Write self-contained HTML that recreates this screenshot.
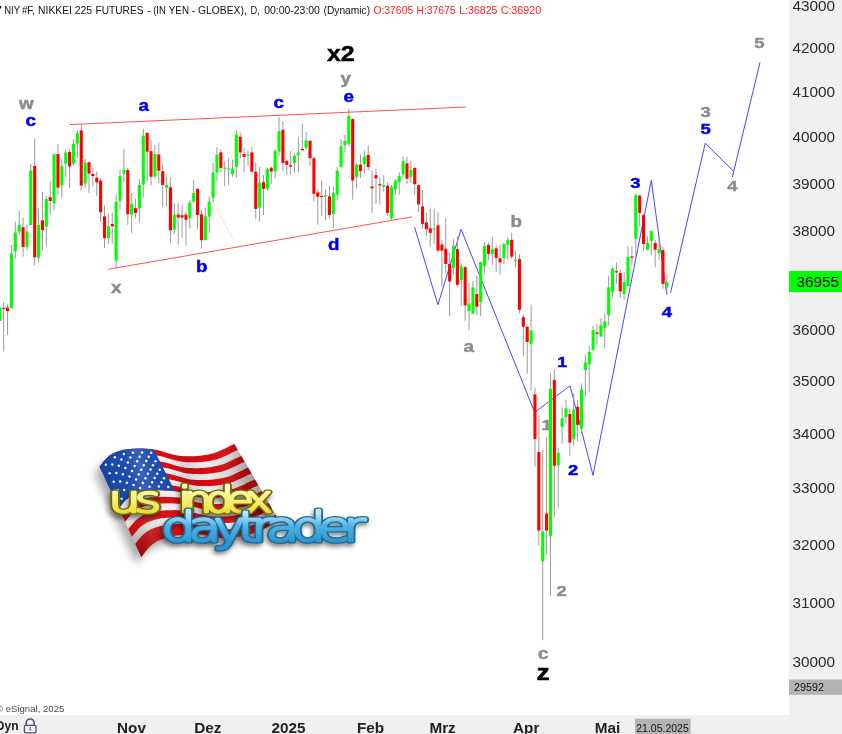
<!DOCTYPE html>
<html><head><meta charset="utf-8"><title>NIY #F Nikkei 225 Futures</title>
<style>
html,body{margin:0;padding:0;background:#fff;}
body{width:842px;height:734px;overflow:hidden;position:relative;font-family:"Liberation Sans",sans-serif;}
svg{position:absolute;left:0;top:0;display:block}
text{font-family:"Liberation Sans",sans-serif;}
.ax{font-size:15.3px;fill:#2a2a2a;}
.mo{font-size:15.3px;font-weight:bold;fill:#222;}
.wb{font-weight:bold;fill:#0000f0;stroke:#0000f0;}
.wg{font-weight:bold;fill:#8c8c8c;stroke:#8c8c8c;}
.wk{font-weight:bold;fill:#000;stroke:#000;}
.lg{font-family:"DejaVu Sans Light","DejaVu Sans",sans-serif;font-weight:200;}
</style></head><body>
<svg width="842" height="734" viewBox="0 0 842 734">
<rect x="0" y="0" width="842" height="734" fill="#ffffff"/>
<rect x="789" y="0" width="53" height="734" fill="#f0f0f0"/>
<rect x="0" y="715" width="842" height="19" fill="#f0f0f0"/>
<text y="14" font-size="10.3" fill="#111"><tspan x="-1.1" textLength="3.1" lengthAdjust="spacingAndGlyphs">'</tspan> <tspan x="4.2" textLength="15.6" lengthAdjust="spacingAndGlyphs">NIY</tspan> <tspan x="21.9" textLength="13.1" lengthAdjust="spacingAndGlyphs">#F,</tspan> <tspan x="38.1" textLength="33.8" lengthAdjust="spacingAndGlyphs">NIKKEI</tspan> <tspan x="74.7" textLength="17.5" lengthAdjust="spacingAndGlyphs">225</tspan> <tspan x="95.6" textLength="47.8" lengthAdjust="spacingAndGlyphs">FUTURES</tspan> <tspan x="147.0" textLength="3.8" lengthAdjust="spacingAndGlyphs">-</tspan> <tspan x="153.2" textLength="12.6" lengthAdjust="spacingAndGlyphs">(IN</tspan> <tspan x="168.8" textLength="20.2" lengthAdjust="spacingAndGlyphs">YEN</tspan> <tspan x="191.7" textLength="3.7" lengthAdjust="spacingAndGlyphs">-</tspan> <tspan x="198.0" textLength="48.8" lengthAdjust="spacingAndGlyphs">GLOBEX),</tspan> <tspan x="250.5" textLength="9.3" lengthAdjust="spacingAndGlyphs">D,</tspan> <tspan x="264.2" textLength="55.7" lengthAdjust="spacingAndGlyphs">00:00-23:00</tspan> <tspan x="323.5" textLength="46.6" lengthAdjust="spacingAndGlyphs">(Dynamic)</tspan></text>
<text y="14" font-size="10.3" fill="#ff2020"><tspan x="373.4" textLength="39.8" lengthAdjust="spacingAndGlyphs">O:37605</tspan> <tspan x="416.4" textLength="39.2" lengthAdjust="spacingAndGlyphs">H:37675</tspan> <tspan x="459.2" textLength="38.3" lengthAdjust="spacingAndGlyphs">L:36825</tspan> <tspan x="500.7" textLength="40.4" lengthAdjust="spacingAndGlyphs">C:36920</tspan></text>
<text class="ax" x="792.5" y="10.5">43000</text>
<text class="ax" x="792.5" y="53.4">42000</text>
<text class="ax" x="792.5" y="97.4">41000</text>
<text class="ax" x="792.5" y="142.4">40000</text>
<text class="ax" x="792.5" y="188.6">39000</text>
<text class="ax" x="792.5" y="236.0">38000</text>
<text class="ax" x="792.5" y="334.7">36000</text>
<text class="ax" x="792.5" y="386.1">35000</text>
<text class="ax" x="792.5" y="438.9">34000</text>
<text class="ax" x="792.5" y="493.4">33000</text>
<text class="ax" x="792.5" y="549.5">32000</text>
<text class="ax" x="792.5" y="607.5">31000</text>
<text class="ax" x="792.5" y="667.3">30000</text>
<rect x="789" y="271" width="53" height="21" fill="#00ff00"/>
<text x="796.5" y="287.3" font-size="15.3" fill="#000">36955</text>
<rect x="789" y="679.5" width="53" height="15.3" fill="#b4b4b4"/>
<text x="794" y="691.4" font-size="10.8" fill="#111">29592</text>
<text x="-4.1" y="712" font-size="9.6" fill="#4a4a4a">© eSignal, 2025</text>
<text x="-4.2" y="729.9" font-size="12" font-weight="bold" fill="#1a1a1a">Dyn</text>
<g fill="none" stroke="#4d5268" stroke-width="1.3"><rect x="24.4" y="725.4" width="11.6" height="7.4" rx="1.2"/><path d="M26.2 725.2v-2.2a4 4 0 0 1 8 0v2.2" stroke-width="1.6"/><path d="M30.2 728.3v2.2" stroke-width="1.2"/><circle cx="30.2" cy="727.8" r="0.7" fill="#4d5268" stroke="none"/></g>
<text class="mo" x="117.0" y="732.5">Nov</text>
<text class="mo" x="194.3" y="732.5">Dez</text>
<text class="mo" x="271.6" y="732.5">2025</text>
<text class="mo" x="357.0" y="732.5">Feb</text>
<text class="mo" x="429.4" y="732.5">Mrz</text>
<text class="mo" x="513.0" y="732.5">Apr</text>
<text class="mo" x="594.7" y="732.5">Mai</text>
<rect x="635" y="718.7" width="55.6" height="15.3" fill="#b4b4b4"/>
<text x="636.2" y="731.7" font-size="10.5" textLength="52.6" lengthAdjust="spacing" fill="#111">21.05.2025</text>
<g stroke="#ff5050" stroke-width="1" fill="none">
<line x1="69.5" y1="124.6" x2="466" y2="107"/>
<line x1="108" y1="269.3" x2="412" y2="216.9"/>
</g>
<g stroke="#4646ff" stroke-width="1" fill="none" stroke-linejoin="miter">
<polyline points="414.6,227.2 437.9,304.8 461.1,229.3 534.6,412.3 570.1,385.8 593,475.3 651.3,180.3 666.8,294.7"/>
<polyline points="670.6,292.8 705.3,143.1 733.4,171.2"/>
<polyline points="732.4,177 760,62.3"/>
</g>
<line x1="213" y1="201.6" x2="233" y2="238.8" stroke="#e9e9e9" stroke-width="1"/>
<text class="wg" font-size="15.6" stroke-width="0.45" transform="translate(19.0,108.5) scale(1.2,1)">w</text>
<text class="wb" font-size="15.6" stroke-width="0.45" transform="translate(25.5,125.7) scale(1.2,1)">c</text>
<text class="wb" font-size="15.6" stroke-width="0.45" transform="translate(138.5,111.0) scale(1.2,1)">a</text>
<text class="wb" font-size="15.6" stroke-width="0.45" transform="translate(273.5,108.0) scale(1.2,1)">c</text>
<text class="wk" font-size="22" stroke-width="0.45" transform="translate(327.0,61.2) scale(1.13,1)">x2</text>
<text class="wg" font-size="15.6" stroke-width="0.45" transform="translate(340.5,83.5) scale(1.2,1)">y</text>
<text class="wb" font-size="15.6" stroke-width="0.45" transform="translate(343.5,102.0) scale(1.2,1)">e</text>
<text class="wg" font-size="15.6" stroke-width="0.45" transform="translate(111.0,292.5) scale(1.2,1)">x</text>
<text class="wb" font-size="15.6" stroke-width="0.45" transform="translate(196.0,271.5) scale(1.2,1)">b</text>
<text class="wb" font-size="15.6" stroke-width="0.45" transform="translate(328.0,249.5) scale(1.2,1)">d</text>
<text class="wg" font-size="15.6" stroke-width="0.45" transform="translate(510.5,226.8) scale(1.2,1)">b</text>
<text class="wg" font-size="15.6" stroke-width="0.45" transform="translate(463.5,351.6) scale(1.2,1)">a</text>
<text class="wb" font-size="15.4" stroke-width="0.45" transform="translate(557.0,367.2) scale(1.2,1)">1</text>
<text class="wg" font-size="15.4" stroke-width="0.45" transform="translate(541.5,429.5) scale(1.2,1)">1</text>
<text class="wb" font-size="15.4" stroke-width="0.45" transform="translate(568.0,475.2) scale(1.2,1)">2</text>
<text class="wg" font-size="15.4" stroke-width="0.45" transform="translate(556.5,596.1) scale(1.2,1)">2</text>
<text class="wg" font-size="15.6" stroke-width="0.45" transform="translate(538.0,659.2) scale(1.2,1)">c</text>
<text class="wk" font-size="22" stroke-width="0.45" transform="translate(536.5,680.0) scale(1.2,1)">z</text>
<text class="wb" font-size="15.4" stroke-width="0.45" transform="translate(630.3,188.0) scale(1.2,1)">3</text>
<text class="wb" font-size="15.4" stroke-width="0.45" transform="translate(661.7,317.0) scale(1.2,1)">4</text>
<text class="wg" font-size="15.4" stroke-width="0.45" transform="translate(700.5,117.2) scale(1.2,1)">3</text>
<text class="wb" font-size="15.4" stroke-width="0.45" transform="translate(700.5,134.3) scale(1.2,1)">5</text>
<text class="wg" font-size="15.4" stroke-width="0.45" transform="translate(727.3,191.3) scale(1.2,1)">4</text>
<text class="wg" font-size="15.4" stroke-width="0.45" transform="translate(754.3,48.3) scale(1.2,1)">5</text>
<g shape-rendering="auto">
<line x1="-0.20" x2="-0.20" y1="307.0" y2="321.0" stroke="#9a9a9a" stroke-width="1"/><line x1="3.68" x2="3.68" y1="301.9" y2="351.5" stroke="#9a9a9a" stroke-width="1"/><line x1="7.56" x2="7.56" y1="304.3" y2="334.8" stroke="#9a9a9a" stroke-width="1"/><line x1="11.43" x2="11.43" y1="244.9" y2="308.1" stroke="#9a9a9a" stroke-width="1"/><line x1="15.31" x2="15.31" y1="221.6" y2="259.0" stroke="#9a9a9a" stroke-width="1"/><line x1="19.19" x2="19.19" y1="210.4" y2="235.7" stroke="#9a9a9a" stroke-width="1"/><line x1="23.07" x2="23.07" y1="217.7" y2="256.5" stroke="#9a9a9a" stroke-width="1"/><line x1="26.95" x2="26.95" y1="224.9" y2="250.7" stroke="#9a9a9a" stroke-width="1"/><line x1="30.82" x2="30.82" y1="164.0" y2="225.0" stroke="#9a9a9a" stroke-width="1"/><line x1="34.70" x2="34.70" y1="138.6" y2="265.7" stroke="#9a9a9a" stroke-width="1"/><line x1="38.58" x2="38.58" y1="208.3" y2="262.3" stroke="#9a9a9a" stroke-width="1"/><line x1="42.46" x2="42.46" y1="192.0" y2="250.0" stroke="#9a9a9a" stroke-width="1"/><line x1="46.34" x2="46.34" y1="195.6" y2="246.5" stroke="#9a9a9a" stroke-width="1"/><line x1="50.21" x2="50.21" y1="181.5" y2="214.6" stroke="#9a9a9a" stroke-width="1"/><line x1="54.09" x2="54.09" y1="153.0" y2="210.0" stroke="#9a9a9a" stroke-width="1"/><line x1="57.97" x2="57.97" y1="144.0" y2="194.7" stroke="#9a9a9a" stroke-width="1"/><line x1="61.85" x2="61.85" y1="159.0" y2="198.0" stroke="#9a9a9a" stroke-width="1"/><line x1="65.73" x2="65.73" y1="149.9" y2="177.3" stroke="#9a9a9a" stroke-width="1"/><line x1="69.60" x2="69.60" y1="149.0" y2="188.0" stroke="#9a9a9a" stroke-width="1"/><line x1="73.48" x2="73.48" y1="139.0" y2="165.7" stroke="#9a9a9a" stroke-width="1"/><line x1="77.36" x2="77.36" y1="130.0" y2="158.0" stroke="#9a9a9a" stroke-width="1"/><line x1="81.24" x2="81.24" y1="123.8" y2="190.6" stroke="#9a9a9a" stroke-width="1"/><line x1="85.12" x2="85.12" y1="159.0" y2="188.0" stroke="#9a9a9a" stroke-width="1"/><line x1="88.99" x2="88.99" y1="161.5" y2="193.0" stroke="#9a9a9a" stroke-width="1"/><line x1="92.87" x2="92.87" y1="168.0" y2="186.4" stroke="#9a9a9a" stroke-width="1"/><line x1="96.75" x2="96.75" y1="171.5" y2="195.6" stroke="#9a9a9a" stroke-width="1"/><line x1="100.63" x2="100.63" y1="178.0" y2="221.6" stroke="#9a9a9a" stroke-width="1"/><line x1="104.51" x2="104.51" y1="205.3" y2="248.2" stroke="#9a9a9a" stroke-width="1"/><line x1="108.38" x2="108.38" y1="214.0" y2="244.0" stroke="#9a9a9a" stroke-width="1"/><line x1="112.26" x2="112.26" y1="212.7" y2="243.5" stroke="#9a9a9a" stroke-width="1"/><line x1="116.14" x2="116.14" y1="194.7" y2="268.2" stroke="#9a9a9a" stroke-width="1"/><line x1="120.02" x2="120.02" y1="169.8" y2="209.4" stroke="#9a9a9a" stroke-width="1"/><line x1="123.90" x2="123.90" y1="149.0" y2="182.3" stroke="#9a9a9a" stroke-width="1"/><line x1="127.77" x2="127.77" y1="168.0" y2="225.0" stroke="#9a9a9a" stroke-width="1"/><line x1="131.65" x2="131.65" y1="193.0" y2="233.2" stroke="#9a9a9a" stroke-width="1"/><line x1="135.53" x2="135.53" y1="198.9" y2="218.3" stroke="#9a9a9a" stroke-width="1"/><line x1="139.41" x2="139.41" y1="178.8" y2="222.6" stroke="#9a9a9a" stroke-width="1"/><line x1="143.29" x2="143.29" y1="128.8" y2="197.8" stroke="#9a9a9a" stroke-width="1"/><line x1="147.16" x2="147.16" y1="132.0" y2="181.6" stroke="#9a9a9a" stroke-width="1"/><line x1="151.04" x2="151.04" y1="140.2" y2="185.4" stroke="#9a9a9a" stroke-width="1"/><line x1="154.92" x2="154.92" y1="145.4" y2="178.8" stroke="#9a9a9a" stroke-width="1"/><line x1="158.80" x2="158.80" y1="142.5" y2="183.5" stroke="#9a9a9a" stroke-width="1"/><line x1="162.68" x2="162.68" y1="164.5" y2="207.4" stroke="#9a9a9a" stroke-width="1"/><line x1="166.55" x2="166.55" y1="176.8" y2="206.4" stroke="#9a9a9a" stroke-width="1"/><line x1="170.43" x2="170.43" y1="177.4" y2="242.7" stroke="#9a9a9a" stroke-width="1"/><line x1="174.31" x2="174.31" y1="203.2" y2="234.1" stroke="#9a9a9a" stroke-width="1"/><line x1="178.19" x2="178.19" y1="203.2" y2="244.6" stroke="#9a9a9a" stroke-width="1"/><line x1="182.07" x2="182.07" y1="204.5" y2="237.9" stroke="#9a9a9a" stroke-width="1"/><line x1="185.94" x2="185.94" y1="212.1" y2="245.5" stroke="#9a9a9a" stroke-width="1"/><line x1="189.82" x2="189.82" y1="199.7" y2="228.7" stroke="#9a9a9a" stroke-width="1"/><line x1="193.70" x2="193.70" y1="179.7" y2="202.6" stroke="#9a9a9a" stroke-width="1"/><line x1="197.58" x2="197.58" y1="187.9" y2="229.3" stroke="#9a9a9a" stroke-width="1"/><line x1="201.46" x2="201.46" y1="210.2" y2="248.4" stroke="#9a9a9a" stroke-width="1"/><line x1="205.33" x2="205.33" y1="207.4" y2="240.2" stroke="#9a9a9a" stroke-width="1"/><line x1="209.21" x2="209.21" y1="196.5" y2="233.1" stroke="#9a9a9a" stroke-width="1"/><line x1="213.09" x2="213.09" y1="163.1" y2="202.6" stroke="#9a9a9a" stroke-width="1"/><line x1="216.97" x2="216.97" y1="147.3" y2="181.6" stroke="#9a9a9a" stroke-width="1"/><line x1="220.85" x2="220.85" y1="149.2" y2="172.1" stroke="#9a9a9a" stroke-width="1"/><line x1="224.72" x2="224.72" y1="161.2" y2="186.4" stroke="#9a9a9a" stroke-width="1"/><line x1="228.60" x2="228.60" y1="158.3" y2="185.4" stroke="#9a9a9a" stroke-width="1"/><line x1="232.48" x2="232.48" y1="159.7" y2="176.8" stroke="#9a9a9a" stroke-width="1"/><line x1="236.36" x2="236.36" y1="130.1" y2="177.8" stroke="#9a9a9a" stroke-width="1"/><line x1="240.24" x2="240.24" y1="132.6" y2="158.3" stroke="#9a9a9a" stroke-width="1"/><line x1="244.11" x2="244.11" y1="147.9" y2="172.1" stroke="#9a9a9a" stroke-width="1"/><line x1="247.99" x2="247.99" y1="149.8" y2="165.4" stroke="#9a9a9a" stroke-width="1"/><line x1="251.87" x2="251.87" y1="146.9" y2="174.0" stroke="#9a9a9a" stroke-width="1"/><line x1="255.75" x2="255.75" y1="162.5" y2="218.8" stroke="#9a9a9a" stroke-width="1"/><line x1="259.63" x2="259.63" y1="166.7" y2="221.7" stroke="#9a9a9a" stroke-width="1"/><line x1="263.50" x2="263.50" y1="174.9" y2="215.0" stroke="#9a9a9a" stroke-width="1"/><line x1="267.38" x2="267.38" y1="167.5" y2="190.8" stroke="#9a9a9a" stroke-width="1"/><line x1="271.26" x2="271.26" y1="166.8" y2="183.9" stroke="#9a9a9a" stroke-width="1"/><line x1="275.14" x2="275.14" y1="149.2" y2="178.2" stroke="#9a9a9a" stroke-width="1"/><line x1="279.02" x2="279.02" y1="116.8" y2="156.3" stroke="#9a9a9a" stroke-width="1"/><line x1="282.89" x2="282.89" y1="121.4" y2="171.0" stroke="#9a9a9a" stroke-width="1"/><line x1="286.77" x2="286.77" y1="159.5" y2="174.8" stroke="#9a9a9a" stroke-width="1"/><line x1="290.65" x2="290.65" y1="151.1" y2="174.8" stroke="#9a9a9a" stroke-width="1"/><line x1="294.53" x2="294.53" y1="153.4" y2="172.9" stroke="#9a9a9a" stroke-width="1"/><line x1="298.41" x2="298.41" y1="137.2" y2="172.5" stroke="#9a9a9a" stroke-width="1"/><line x1="302.28" x2="302.28" y1="123.3" y2="150.4" stroke="#9a9a9a" stroke-width="1"/><line x1="306.16" x2="306.16" y1="132.0" y2="150.0" stroke="#9a9a9a" stroke-width="1"/><line x1="310.04" x2="310.04" y1="140.0" y2="165.8" stroke="#9a9a9a" stroke-width="1"/><line x1="313.92" x2="313.92" y1="156.8" y2="201.1" stroke="#9a9a9a" stroke-width="1"/><line x1="317.80" x2="317.80" y1="188.7" y2="224.9" stroke="#9a9a9a" stroke-width="1"/><line x1="321.67" x2="321.67" y1="180.5" y2="216.0" stroke="#9a9a9a" stroke-width="1"/><line x1="325.55" x2="325.55" y1="189.6" y2="219.8" stroke="#9a9a9a" stroke-width="1"/><line x1="329.43" x2="329.43" y1="185.8" y2="218.6" stroke="#9a9a9a" stroke-width="1"/><line x1="333.31" x2="333.31" y1="186.2" y2="228.2" stroke="#9a9a9a" stroke-width="1"/><line x1="337.19" x2="337.19" y1="166.8" y2="200.7" stroke="#9a9a9a" stroke-width="1"/><line x1="341.06" x2="341.06" y1="139.1" y2="167.7" stroke="#9a9a9a" stroke-width="1"/><line x1="344.94" x2="344.94" y1="134.9" y2="152.5" stroke="#9a9a9a" stroke-width="1"/><line x1="348.82" x2="348.82" y1="109.0" y2="146.2" stroke="#9a9a9a" stroke-width="1"/><line x1="352.70" x2="352.70" y1="118.1" y2="199.6" stroke="#9a9a9a" stroke-width="1"/><line x1="356.58" x2="356.58" y1="162.9" y2="188.7" stroke="#9a9a9a" stroke-width="1"/><line x1="360.45" x2="360.45" y1="154.7" y2="178.2" stroke="#9a9a9a" stroke-width="1"/><line x1="364.33" x2="364.33" y1="150.5" y2="173.8" stroke="#9a9a9a" stroke-width="1"/><line x1="368.21" x2="368.21" y1="145.2" y2="170.6" stroke="#9a9a9a" stroke-width="1"/><line x1="372.09" x2="372.09" y1="170.2" y2="212.9" stroke="#9a9a9a" stroke-width="1"/><line x1="375.97" x2="375.97" y1="169.0" y2="203.9" stroke="#9a9a9a" stroke-width="1"/><line x1="379.84" x2="379.84" y1="177.8" y2="204.5" stroke="#9a9a9a" stroke-width="1"/><line x1="383.72" x2="383.72" y1="174.8" y2="191.6" stroke="#9a9a9a" stroke-width="1"/><line x1="387.60" x2="387.60" y1="182.4" y2="216.0" stroke="#9a9a9a" stroke-width="1"/><line x1="391.48" x2="391.48" y1="184.9" y2="220.5" stroke="#9a9a9a" stroke-width="1"/><line x1="395.36" x2="395.36" y1="179.2" y2="194.8" stroke="#9a9a9a" stroke-width="1"/><line x1="399.23" x2="399.23" y1="172.2" y2="194.6" stroke="#9a9a9a" stroke-width="1"/><line x1="403.11" x2="403.11" y1="156.2" y2="177.8" stroke="#9a9a9a" stroke-width="1"/><line x1="406.99" x2="406.99" y1="156.8" y2="184.2" stroke="#9a9a9a" stroke-width="1"/><line x1="410.87" x2="410.87" y1="160.6" y2="182.9" stroke="#9a9a9a" stroke-width="1"/><line x1="414.75" x2="414.75" y1="166.7" y2="194.9" stroke="#9a9a9a" stroke-width="1"/><line x1="418.62" x2="418.62" y1="184.2" y2="212.1" stroke="#9a9a9a" stroke-width="1"/><line x1="422.50" x2="422.50" y1="190.0" y2="228.7" stroke="#9a9a9a" stroke-width="1"/><line x1="426.38" x2="426.38" y1="212.5" y2="236.3" stroke="#9a9a9a" stroke-width="1"/><line x1="430.26" x2="430.26" y1="208.7" y2="246.8" stroke="#9a9a9a" stroke-width="1"/><line x1="434.14" x2="434.14" y1="208.7" y2="243.9" stroke="#9a9a9a" stroke-width="1"/><line x1="438.01" x2="438.01" y1="212.1" y2="252.5" stroke="#9a9a9a" stroke-width="1"/><line x1="441.89" x2="441.89" y1="240.1" y2="286.7" stroke="#9a9a9a" stroke-width="1"/><line x1="445.77" x2="445.77" y1="217.8" y2="273.4" stroke="#9a9a9a" stroke-width="1"/><line x1="449.65" x2="449.65" y1="252.5" y2="316.3" stroke="#9a9a9a" stroke-width="1"/><line x1="453.53" x2="453.53" y1="239.2" y2="274.3" stroke="#9a9a9a" stroke-width="1"/><line x1="457.40" x2="457.40" y1="236.3" y2="287.7" stroke="#9a9a9a" stroke-width="1"/><line x1="461.28" x2="461.28" y1="263.0" y2="305.8" stroke="#9a9a9a" stroke-width="1"/><line x1="465.16" x2="465.16" y1="265.9" y2="320.7" stroke="#9a9a9a" stroke-width="1"/><line x1="469.04" x2="469.04" y1="282.9" y2="330.6" stroke="#9a9a9a" stroke-width="1"/><line x1="472.92" x2="472.92" y1="281.0" y2="314.4" stroke="#9a9a9a" stroke-width="1"/><line x1="476.79" x2="476.79" y1="275.8" y2="314.9" stroke="#9a9a9a" stroke-width="1"/><line x1="480.67" x2="480.67" y1="262.0" y2="316.3" stroke="#9a9a9a" stroke-width="1"/><line x1="484.55" x2="484.55" y1="242.0" y2="273.4" stroke="#9a9a9a" stroke-width="1"/><line x1="488.43" x2="488.43" y1="242.6" y2="260.2" stroke="#9a9a9a" stroke-width="1"/><line x1="492.31" x2="492.31" y1="236.9" y2="264.9" stroke="#9a9a9a" stroke-width="1"/><line x1="496.18" x2="496.18" y1="244.9" y2="271.6" stroke="#9a9a9a" stroke-width="1"/><line x1="500.06" x2="500.06" y1="244.5" y2="274.5" stroke="#9a9a9a" stroke-width="1"/><line x1="503.94" x2="503.94" y1="243.0" y2="264.0" stroke="#9a9a9a" stroke-width="1"/><line x1="507.82" x2="507.82" y1="237.3" y2="259.2" stroke="#9a9a9a" stroke-width="1"/><line x1="511.70" x2="511.70" y1="232.5" y2="259.2" stroke="#9a9a9a" stroke-width="1"/><line x1="515.57" x2="515.57" y1="250.6" y2="267.4" stroke="#9a9a9a" stroke-width="1"/><line x1="519.45" x2="519.45" y1="254.0" y2="313.4" stroke="#9a9a9a" stroke-width="1"/><line x1="523.33" x2="523.33" y1="314.9" y2="356.3" stroke="#9a9a9a" stroke-width="1"/><line x1="527.21" x2="527.21" y1="324.8" y2="373.7" stroke="#9a9a9a" stroke-width="1"/><line x1="531.09" x2="531.09" y1="304.5" y2="390.6" stroke="#9a9a9a" stroke-width="1"/><line x1="534.96" x2="534.96" y1="387.4" y2="466.7" stroke="#9a9a9a" stroke-width="1"/><line x1="538.84" x2="538.84" y1="415.4" y2="545.6" stroke="#9a9a9a" stroke-width="1"/><line x1="542.72" x2="542.72" y1="449.6" y2="640.1" stroke="#9a9a9a" stroke-width="1"/><line x1="546.60" x2="546.60" y1="437.5" y2="554.3" stroke="#9a9a9a" stroke-width="1"/><line x1="550.48" x2="550.48" y1="373.4" y2="595.7" stroke="#9a9a9a" stroke-width="1"/><line x1="554.35" x2="554.35" y1="369.6" y2="517.3" stroke="#9a9a9a" stroke-width="1"/><line x1="558.23" x2="558.23" y1="447.7" y2="507.7" stroke="#9a9a9a" stroke-width="1"/><line x1="562.11" x2="562.11" y1="407.4" y2="443.8" stroke="#9a9a9a" stroke-width="1"/><line x1="565.99" x2="565.99" y1="399.6" y2="423.4" stroke="#9a9a9a" stroke-width="1"/><line x1="569.87" x2="569.87" y1="408.7" y2="455.3" stroke="#9a9a9a" stroke-width="1"/><line x1="573.74" x2="573.74" y1="393.5" y2="445.7" stroke="#9a9a9a" stroke-width="1"/><line x1="577.62" x2="577.62" y1="400.1" y2="441.0" stroke="#9a9a9a" stroke-width="1"/><line x1="581.50" x2="581.50" y1="383.3" y2="433.4" stroke="#9a9a9a" stroke-width="1"/><line x1="585.38" x2="585.38" y1="354.4" y2="396.3" stroke="#9a9a9a" stroke-width="1"/><line x1="589.26" x2="589.26" y1="346.2" y2="391.6" stroke="#9a9a9a" stroke-width="1"/><line x1="593.13" x2="593.13" y1="325.7" y2="350.5" stroke="#9a9a9a" stroke-width="1"/><line x1="597.01" x2="597.01" y1="324.4" y2="344.8" stroke="#9a9a9a" stroke-width="1"/><line x1="600.89" x2="600.89" y1="318.1" y2="336.6" stroke="#9a9a9a" stroke-width="1"/><line x1="604.77" x2="604.77" y1="313.7" y2="348.6" stroke="#9a9a9a" stroke-width="1"/><line x1="608.65" x2="608.65" y1="275.9" y2="325.7" stroke="#9a9a9a" stroke-width="1"/><line x1="612.52" x2="612.52" y1="267.3" y2="297.4" stroke="#9a9a9a" stroke-width="1"/><line x1="616.40" x2="616.40" y1="262.5" y2="283.9" stroke="#9a9a9a" stroke-width="1"/><line x1="620.28" x2="620.28" y1="269.8" y2="297.8" stroke="#9a9a9a" stroke-width="1"/><line x1="624.16" x2="624.16" y1="272.0" y2="299.7" stroke="#9a9a9a" stroke-width="1"/><line x1="628.04" x2="628.04" y1="245.9" y2="286.0" stroke="#9a9a9a" stroke-width="1"/><line x1="631.91" x2="631.91" y1="245.9" y2="265.4" stroke="#9a9a9a" stroke-width="1"/><line x1="635.79" x2="635.79" y1="193.3" y2="257.4" stroke="#9a9a9a" stroke-width="1"/><line x1="639.67" x2="639.67" y1="194.4" y2="226.8" stroke="#9a9a9a" stroke-width="1"/><line x1="643.55" x2="643.55" y1="214.2" y2="250.5" stroke="#9a9a9a" stroke-width="1"/><line x1="647.43" x2="647.43" y1="236.4" y2="250.5" stroke="#9a9a9a" stroke-width="1"/><line x1="651.30" x2="651.30" y1="230.7" y2="254.9" stroke="#9a9a9a" stroke-width="1"/><line x1="655.18" x2="655.18" y1="240.0" y2="267.3" stroke="#9a9a9a" stroke-width="1"/><line x1="659.06" x2="659.06" y1="234.8" y2="259.6" stroke="#9a9a9a" stroke-width="1"/><line x1="662.94" x2="662.94" y1="246.3" y2="288.6" stroke="#9a9a9a" stroke-width="1"/><line x1="666.82" x2="666.82" y1="274.5" y2="294.0" stroke="#9a9a9a" stroke-width="1"/><rect x="-1.75" y="307.6" width="3.1" height="13.4" fill="#00ff00"/><rect x="2.13" y="307.6" width="3.1" height="1.2" fill="#ff0000"/><rect x="6.01" y="307.6" width="3.1" height="3.4" fill="#ff0000"/><rect x="9.88" y="253.7" width="3.1" height="54.4" fill="#00ff00"/><rect x="13.76" y="232.4" width="3.1" height="19.1" fill="#00ff00"/><rect x="17.64" y="224.9" width="3.1" height="6.7" fill="#00ff00"/><rect x="21.52" y="227.1" width="3.1" height="19.8" fill="#ff0000"/><rect x="25.40" y="231.6" width="3.1" height="15.3" fill="#00ff00"/><rect x="29.27" y="170.6" width="3.1" height="54.4" fill="#00ff00"/><rect x="33.15" y="166.0" width="3.1" height="91.3" fill="#ff0000"/><rect x="37.03" y="224.9" width="3.1" height="32.8" fill="#00ff00"/><rect x="40.91" y="220.3" width="3.1" height="9.7" fill="#ff0000"/><rect x="44.79" y="199.2" width="3.1" height="27.4" fill="#00ff00"/><rect x="48.66" y="197.2" width="3.1" height="3.8" fill="#ff0000"/><rect x="52.54" y="154.4" width="3.1" height="49.0" fill="#00ff00"/><rect x="56.42" y="154.0" width="3.1" height="33.6" fill="#ff0000"/><rect x="60.30" y="166.0" width="3.1" height="19.6" fill="#00ff00"/><rect x="64.18" y="152.4" width="3.1" height="11.3" fill="#00ff00"/><rect x="68.05" y="152.0" width="3.1" height="14.5" fill="#ff0000"/><rect x="71.93" y="144.0" width="3.1" height="19.7" fill="#00ff00"/><rect x="75.81" y="133.2" width="3.1" height="10.5" fill="#00ff00"/><rect x="79.69" y="130.4" width="3.1" height="55.2" fill="#ff0000"/><rect x="83.57" y="162.7" width="3.1" height="20.9" fill="#00ff00"/><rect x="87.44" y="162.3" width="3.1" height="11.3" fill="#ff0000"/><rect x="91.32" y="174.0" width="3.1" height="2.0" fill="#ff0000"/><rect x="95.20" y="177.8" width="3.1" height="4.5" fill="#ff0000"/><rect x="99.08" y="180.6" width="3.1" height="31.7" fill="#ff0000"/><rect x="102.96" y="216.4" width="3.1" height="21.8" fill="#ff0000"/><rect x="106.83" y="226.3" width="3.1" height="11.6" fill="#00ff00"/><rect x="110.71" y="224.0" width="3.1" height="2.3" fill="#ff0000"/><rect x="114.59" y="202.0" width="3.1" height="58.7" fill="#00ff00"/><rect x="118.47" y="176.0" width="3.1" height="24.9" fill="#00ff00"/><rect x="122.35" y="169.8" width="3.1" height="3.8" fill="#00ff00"/><rect x="126.22" y="170.1" width="3.1" height="44.1" fill="#ff0000"/><rect x="130.10" y="204.0" width="3.1" height="10.6" fill="#00ff00"/><rect x="133.98" y="208.2" width="3.1" height="4.8" fill="#ff0000"/><rect x="137.86" y="185.0" width="3.1" height="23.3" fill="#00ff00"/><rect x="141.74" y="135.8" width="3.1" height="48.7" fill="#00ff00"/><rect x="145.61" y="133.0" width="3.1" height="18.7" fill="#ff0000"/><rect x="149.49" y="151.1" width="3.1" height="25.7" fill="#ff0000"/><rect x="153.37" y="154.0" width="3.1" height="22.5" fill="#00ff00"/><rect x="157.25" y="154.5" width="3.1" height="16.2" fill="#ff0000"/><rect x="161.13" y="171.1" width="3.1" height="13.8" fill="#ff0000"/><rect x="165.00" y="185.0" width="3.1" height="2.7" fill="#00ff00"/><rect x="168.88" y="187.3" width="3.1" height="43.0" fill="#ff0000"/><rect x="172.76" y="214.6" width="3.1" height="15.1" fill="#00ff00"/><rect x="176.64" y="214.6" width="3.1" height="2.9" fill="#ff0000"/><rect x="180.52" y="215.2" width="3.1" height="2.3" fill="#ff0000"/><rect x="184.39" y="214.6" width="3.1" height="5.2" fill="#ff0000"/><rect x="188.27" y="202.6" width="3.1" height="15.6" fill="#00ff00"/><rect x="192.15" y="193.1" width="3.1" height="8.5" fill="#00ff00"/><rect x="196.03" y="188.9" width="3.1" height="26.1" fill="#ff0000"/><rect x="199.91" y="214.4" width="3.1" height="25.8" fill="#ff0000"/><rect x="203.78" y="216.3" width="3.1" height="23.9" fill="#00ff00"/><rect x="207.66" y="201.6" width="3.1" height="14.9" fill="#00ff00"/><rect x="211.54" y="172.7" width="3.1" height="25.1" fill="#00ff00"/><rect x="215.42" y="154.5" width="3.1" height="18.0" fill="#00ff00"/><rect x="219.30" y="152.4" width="3.1" height="15.5" fill="#ff0000"/><rect x="223.17" y="167.7" width="3.1" height="1.1" fill="#00ff00"/><rect x="227.05" y="168.3" width="3.1" height="1.1" fill="#00ff00"/><rect x="230.93" y="168.6" width="3.1" height="5.8" fill="#00ff00"/><rect x="234.81" y="134.5" width="3.1" height="32.4" fill="#00ff00"/><rect x="238.69" y="136.8" width="3.1" height="15.6" fill="#ff0000"/><rect x="242.56" y="154.0" width="3.1" height="2.8" fill="#ff0000"/><rect x="246.44" y="154.7" width="3.1" height="1.2" fill="#00ff00"/><rect x="250.32" y="152.4" width="3.1" height="19.3" fill="#ff0000"/><rect x="254.20" y="171.7" width="3.1" height="37.2" fill="#ff0000"/><rect x="258.08" y="182.6" width="3.1" height="25.1" fill="#00ff00"/><rect x="261.95" y="182.2" width="3.1" height="6.7" fill="#ff0000"/><rect x="265.83" y="169.0" width="3.1" height="19.7" fill="#00ff00"/><rect x="269.71" y="167.7" width="3.1" height="3.8" fill="#ff0000"/><rect x="273.59" y="151.1" width="3.1" height="20.4" fill="#00ff00"/><rect x="277.47" y="131.1" width="3.1" height="20.4" fill="#00ff00"/><rect x="281.34" y="129.9" width="3.1" height="33.0" fill="#ff0000"/><rect x="285.22" y="161.0" width="3.1" height="3.8" fill="#ff0000"/><rect x="289.10" y="165.2" width="3.1" height="1.4" fill="#ff0000"/><rect x="292.98" y="155.7" width="3.1" height="7.2" fill="#00ff00"/><rect x="296.86" y="152.5" width="3.1" height="2.4" fill="#00ff00"/><rect x="300.73" y="149.0" width="3.1" height="1.4" fill="#ff0000"/><rect x="304.61" y="140.4" width="3.1" height="7.3" fill="#00ff00"/><rect x="308.49" y="141.0" width="3.1" height="17.2" fill="#ff0000"/><rect x="312.37" y="158.2" width="3.1" height="35.6" fill="#ff0000"/><rect x="316.25" y="192.5" width="3.1" height="4.4" fill="#ff0000"/><rect x="320.12" y="195.9" width="3.1" height="1.2" fill="#ff0000"/><rect x="324.00" y="195.0" width="3.1" height="1.3" fill="#00ff00"/><rect x="327.88" y="196.3" width="3.1" height="18.7" fill="#ff0000"/><rect x="331.76" y="193.1" width="3.1" height="21.0" fill="#00ff00"/><rect x="335.64" y="170.6" width="3.1" height="24.2" fill="#00ff00"/><rect x="339.51" y="146.3" width="3.1" height="20.8" fill="#00ff00"/><rect x="343.39" y="141.0" width="3.1" height="4.2" fill="#00ff00"/><rect x="347.27" y="115.8" width="3.1" height="28.1" fill="#00ff00"/><rect x="351.15" y="119.1" width="3.1" height="61.4" fill="#ff0000"/><rect x="355.03" y="164.5" width="3.1" height="12.4" fill="#00ff00"/><rect x="358.90" y="164.5" width="3.1" height="6.6" fill="#ff0000"/><rect x="362.78" y="156.6" width="3.1" height="7.7" fill="#00ff00"/><rect x="366.66" y="154.9" width="3.1" height="12.2" fill="#ff0000"/><rect x="370.54" y="186.4" width="3.1" height="1.9" fill="#ff0000"/><rect x="374.42" y="175.1" width="3.1" height="3.3" fill="#ff0000"/><rect x="378.29" y="184.1" width="3.1" height="1.3" fill="#ff0000"/><rect x="382.17" y="185.3" width="3.1" height="1.7" fill="#00ff00"/><rect x="386.05" y="185.8" width="3.1" height="27.1" fill="#ff0000"/><rect x="389.93" y="187.2" width="3.1" height="31.1" fill="#00ff00"/><rect x="393.81" y="180.6" width="3.1" height="9.0" fill="#00ff00"/><rect x="397.68" y="175.8" width="3.1" height="6.3" fill="#00ff00"/><rect x="401.56" y="161.2" width="3.1" height="13.1" fill="#00ff00"/><rect x="405.44" y="163.3" width="3.1" height="15.4" fill="#ff0000"/><rect x="409.32" y="169.9" width="3.1" height="6.9" fill="#00ff00"/><rect x="413.20" y="168.0" width="3.1" height="16.2" fill="#ff0000"/><rect x="417.07" y="185.2" width="3.1" height="19.1" fill="#ff0000"/><rect x="420.95" y="206.4" width="3.1" height="17.5" fill="#ff0000"/><rect x="424.83" y="222.4" width="3.1" height="6.9" fill="#ff0000"/><rect x="428.71" y="228.3" width="3.1" height="4.6" fill="#ff0000"/><rect x="432.59" y="228.3" width="3.1" height="1.3" fill="#00ff00"/><rect x="436.46" y="225.3" width="3.1" height="25.3" fill="#ff0000"/><rect x="440.34" y="244.5" width="3.1" height="6.1" fill="#ff0000"/><rect x="444.22" y="248.7" width="3.1" height="15.3" fill="#ff0000"/><rect x="448.10" y="264.0" width="3.1" height="17.4" fill="#ff0000"/><rect x="451.98" y="245.9" width="3.1" height="22.0" fill="#00ff00"/><rect x="455.85" y="249.1" width="3.1" height="35.7" fill="#ff0000"/><rect x="459.73" y="266.4" width="3.1" height="13.6" fill="#00ff00"/><rect x="463.61" y="267.2" width="3.1" height="38.2" fill="#ff0000"/><rect x="467.49" y="303.5" width="3.1" height="7.6" fill="#00ff00"/><rect x="471.37" y="287.3" width="3.1" height="26.1" fill="#00ff00"/><rect x="475.24" y="294.0" width="3.1" height="12.7" fill="#ff0000"/><rect x="479.12" y="262.0" width="3.1" height="40.0" fill="#00ff00"/><rect x="483.00" y="246.2" width="3.1" height="19.6" fill="#00ff00"/><rect x="486.88" y="244.9" width="3.1" height="9.0" fill="#ff0000"/><rect x="490.76" y="249.3" width="3.1" height="4.6" fill="#00ff00"/><rect x="494.63" y="248.3" width="3.1" height="9.6" fill="#ff0000"/><rect x="498.51" y="258.3" width="3.1" height="4.1" fill="#ff0000"/><rect x="502.39" y="243.9" width="3.1" height="14.4" fill="#00ff00"/><rect x="506.27" y="239.8" width="3.1" height="5.1" fill="#00ff00"/><rect x="510.15" y="239.8" width="3.1" height="16.9" fill="#ff0000"/><rect x="514.02" y="259.8" width="3.1" height="1.1" fill="#00ff00"/><rect x="517.90" y="259.2" width="3.1" height="50.6" fill="#ff0000"/><rect x="521.78" y="317.2" width="3.1" height="9.6" fill="#ff0000"/><rect x="525.66" y="326.8" width="3.1" height="15.2" fill="#ff0000"/><rect x="529.54" y="330.3" width="3.1" height="13.6" fill="#00ff00"/><rect x="533.41" y="394.4" width="3.1" height="44.7" fill="#ff0000"/><rect x="537.29" y="452.0" width="3.1" height="78.6" fill="#ff0000"/><rect x="541.17" y="531.6" width="3.1" height="29.8" fill="#00ff00"/><rect x="545.05" y="513.5" width="3.1" height="17.1" fill="#ff0000"/><rect x="548.93" y="388.7" width="3.1" height="147.1" fill="#00ff00"/><rect x="552.80" y="380.1" width="3.1" height="85.7" fill="#ff0000"/><rect x="556.68" y="452.8" width="3.1" height="12.6" fill="#00ff00"/><rect x="560.56" y="418.3" width="3.1" height="8.5" fill="#00ff00"/><rect x="564.44" y="408.3" width="3.1" height="9.0" fill="#00ff00"/><rect x="568.32" y="414.0" width="3.1" height="28.5" fill="#ff0000"/><rect x="572.19" y="409.7" width="3.1" height="29.4" fill="#00ff00"/><rect x="576.07" y="406.8" width="3.1" height="18.1" fill="#ff0000"/><rect x="579.95" y="389.3" width="3.1" height="39.4" fill="#00ff00"/><rect x="583.83" y="362.6" width="3.1" height="7.4" fill="#00ff00"/><rect x="587.71" y="351.9" width="3.1" height="12.6" fill="#00ff00"/><rect x="591.58" y="329.9" width="3.1" height="20.1" fill="#00ff00"/><rect x="595.46" y="332.4" width="3.1" height="1.4" fill="#ff0000"/><rect x="599.34" y="325.4" width="3.1" height="11.2" fill="#00ff00"/><rect x="603.22" y="321.4" width="3.1" height="6.6" fill="#00ff00"/><rect x="607.10" y="287.3" width="3.1" height="28.0" fill="#00ff00"/><rect x="610.97" y="268.8" width="3.1" height="23.3" fill="#00ff00"/><rect x="614.85" y="271.1" width="3.1" height="1.3" fill="#ff0000"/><rect x="618.73" y="273.0" width="3.1" height="18.5" fill="#ff0000"/><rect x="622.61" y="282.1" width="3.1" height="11.9" fill="#00ff00"/><rect x="626.49" y="256.8" width="3.1" height="29.2" fill="#00ff00"/><rect x="630.36" y="256.4" width="3.1" height="1.3" fill="#ff0000"/><rect x="634.24" y="195.2" width="3.1" height="43.5" fill="#00ff00"/><rect x="638.12" y="195.7" width="3.1" height="17.2" fill="#ff0000"/><rect x="642.00" y="215.2" width="3.1" height="28.8" fill="#ff0000"/><rect x="645.88" y="243.0" width="3.1" height="6.7" fill="#00ff00"/><rect x="649.75" y="231.0" width="3.1" height="10.0" fill="#00ff00"/><rect x="653.63" y="243.0" width="3.1" height="6.7" fill="#ff0000"/><rect x="657.51" y="249.2" width="3.1" height="3.8" fill="#00ff00"/><rect x="661.39" y="250.1" width="3.1" height="33.8" fill="#ff0000"/><rect x="665.27" y="282.1" width="3.1" height="4.8" fill="#00ff00"/>
</g>
<defs>
<filter id="sh" x="-20%" y="-20%" width="140%" height="140%"><feGaussianBlur stdDeviation="4"/></filter>
<filter id="sh2" x="-10%" y="-30%" width="120%" height="160%"><feGaussianBlur stdDeviation="2.2"/></filter>
<clipPath id="flagclip"><polygon points="99.5,466.7 102.9,462.4 106.2,458.4 109.6,455.6 113.0,453.5 116.4,451.9 119.8,450.8 123.2,449.9 126.5,449.3 129.9,448.9 133.3,448.7 136.7,448.6 140.2,448.6 143.6,448.6 147.0,448.8 150.4,449.1 153.8,449.5 157.2,450.1 160.6,451.0 164.0,451.9 167.4,453.0 170.8,454.0 174.2,454.9 177.6,455.6 180.9,456.0 184.2,456.2 187.5,456.3 190.8,456.3 194.0,456.3 197.3,456.1 200.5,455.8 203.8,455.3 207.1,454.8 210.4,454.1 213.8,453.3 217.2,452.1 220.6,450.6 224.1,449.0 227.5,447.3 231.0,445.6 234.4,444.1 279.0,520.5 275.5,522.4 272.0,524.4 268.4,526.5 264.9,528.4 261.4,530.2 258.0,531.8 254.5,533.0 251.2,534.0 247.8,534.9 244.4,535.7 241.1,536.3 237.8,536.9 234.5,537.3 231.1,537.7 227.8,537.9 224.4,538.0 221.0,538.0 217.5,537.6 214.1,537.1 210.6,536.4 207.1,535.7 203.7,535.1 200.2,534.6 196.7,534.4 193.2,534.3 189.8,534.4 186.3,534.6 182.8,534.9 179.3,535.2 175.8,535.7 172.4,536.3 168.9,537.0 165.4,538.0 162.0,539.2 158.6,540.6 155.1,542.6 151.6,545.1 148.2,548.2 144.7,552.5 141.3,557.2"/></clipPath>
<linearGradient id="wave" gradientUnits="userSpaceOnUse" x1="99" y1="500" x2="280" y2="470"><stop offset="0" stop-color="#000" stop-opacity="0.20"/><stop offset="0.12" stop-color="#000" stop-opacity="0.02"/><stop offset="0.25" stop-color="#fff" stop-opacity="0.13"/><stop offset="0.40" stop-color="#000" stop-opacity="0.03"/><stop offset="0.50" stop-color="#000" stop-opacity="0.15"/><stop offset="0.62" stop-color="#000" stop-opacity="0.02"/><stop offset="0.70" stop-color="#fff" stop-opacity="0.06"/><stop offset="0.80" stop-color="#000" stop-opacity="0.12"/><stop offset="1" stop-color="#000" stop-opacity="0.30"/></linearGradient>
<radialGradient id="crn" gradientUnits="userSpaceOnUse" cx="141" cy="560" r="46"><stop offset="0" stop-color="#300" stop-opacity="0.45"/><stop offset="1" stop-color="#300" stop-opacity="0"/></radialGradient>
<radialGradient id="crn2" gradientUnits="userSpaceOnUse" cx="262" cy="470" r="60"><stop offset="0" stop-color="#200" stop-opacity="0.30"/><stop offset="1" stop-color="#200" stop-opacity="0"/></radialGradient>
<linearGradient id="yel" x1="0" y1="0" x2="0" y2="1"><stop offset="0.2" stop-color="#fefbc0"/><stop offset="0.6" stop-color="#f6ea60"/><stop offset="0.85" stop-color="#ecd935"/></linearGradient>
<linearGradient id="blu" x1="0" y1="0" x2="0" y2="1"><stop offset="0.22" stop-color="#c4e8f9"/><stop offset="0.5" stop-color="#4db2e3"/><stop offset="0.85" stop-color="#2b93d2"/></linearGradient>
</defs>
<polygon points="99.5,466.7 102.9,462.4 106.2,458.4 109.6,455.6 113.0,453.5 116.4,451.9 119.8,450.8 123.2,449.9 126.5,449.3 129.9,448.9 133.3,448.7 136.7,448.6 140.2,448.6 143.6,448.6 147.0,448.8 150.4,449.1 153.8,449.5 157.2,450.1 160.6,451.0 164.0,451.9 167.4,453.0 170.8,454.0 174.2,454.9 177.6,455.6 180.9,456.0 184.2,456.2 187.5,456.3 190.8,456.3 194.0,456.3 197.3,456.1 200.5,455.8 203.8,455.3 207.1,454.8 210.4,454.1 213.8,453.3 217.2,452.1 220.6,450.6 224.1,449.0 227.5,447.3 231.0,445.6 234.4,444.1 279.0,520.5 275.5,522.4 272.0,524.4 268.4,526.5 264.9,528.4 261.4,530.2 258.0,531.8 254.5,533.0 251.2,534.0 247.8,534.9 244.4,535.7 241.1,536.3 237.8,536.9 234.5,537.3 231.1,537.7 227.8,537.9 224.4,538.0 221.0,538.0 217.5,537.6 214.1,537.1 210.6,536.4 207.1,535.7 203.7,535.1 200.2,534.6 196.7,534.4 193.2,534.3 189.8,534.4 186.3,534.6 182.8,534.9 179.3,535.2 175.8,535.7 172.4,536.3 168.9,537.0 165.4,538.0 162.0,539.2 158.6,540.6 155.1,542.6 151.6,545.1 148.2,548.2 144.7,552.5 141.3,557.2" fill="#000" opacity="0.33" filter="url(#sh)" transform="translate(-5,7)"/>
<polygon points="99.5,466.7 102.9,462.4 106.2,458.4 109.6,455.6 113.0,453.5 116.4,451.9 119.8,450.8 123.2,449.9 126.5,449.3 129.9,448.9 133.3,448.7 136.7,448.6 140.2,448.6 143.6,448.6 147.0,448.8 150.4,449.1 153.8,449.5 157.2,450.1 160.6,451.0 164.0,451.9 167.4,453.0 170.8,454.0 174.2,454.9 177.6,455.6 180.9,456.0 184.2,456.2 187.5,456.3 190.8,456.3 194.0,456.3 197.3,456.1 200.5,455.8 203.8,455.3 207.1,454.8 210.4,454.1 213.8,453.3 217.2,452.1 220.6,450.6 224.1,449.0 227.5,447.3 231.0,445.6 234.4,444.1 279.0,520.5 275.5,522.4 272.0,524.4 268.4,526.5 264.9,528.4 261.4,530.2 258.0,531.8 254.5,533.0 251.2,534.0 247.8,534.9 244.4,535.7 241.1,536.3 237.8,536.9 234.5,537.3 231.1,537.7 227.8,537.9 224.4,538.0 221.0,538.0 217.5,537.6 214.1,537.1 210.6,536.4 207.1,535.7 203.7,535.1 200.2,534.6 196.7,534.4 193.2,534.3 189.8,534.4 186.3,534.6 182.8,534.9 179.3,535.2 175.8,535.7 172.4,536.3 168.9,537.0 165.4,538.0 162.0,539.2 158.6,540.6 155.1,542.6 151.6,545.1 148.2,548.2 144.7,552.5 141.3,557.2" fill="#f8f8f8"/>
<polygon points="99.5,466.7 102.9,462.4 106.2,458.4 109.6,455.6 113.0,453.5 116.4,451.9 119.8,450.8 123.2,449.9 126.5,449.3 129.9,448.9 133.3,448.7 136.7,448.6 140.2,448.6 143.6,448.6 147.0,448.8 150.4,449.1 153.8,449.5 157.2,450.1 160.6,451.0 164.0,451.9 167.4,453.0 170.8,454.0 174.2,454.9 177.6,455.6 180.9,456.0 184.2,456.2 187.5,456.3 190.8,456.3 194.0,456.3 197.3,456.1 200.5,455.8 203.8,455.3 207.1,454.8 210.4,454.1 213.8,453.3 217.2,452.1 220.6,450.6 224.1,449.0 227.5,447.3 231.0,445.6 234.4,444.1 237.8,450.0 234.4,451.5 230.9,453.2 227.4,454.9 224.0,456.5 220.5,458.0 217.1,459.2 213.7,460.1 210.4,460.7 207.1,461.3 203.8,461.7 200.5,462.0 197.3,462.2 194.0,462.3 190.7,462.3 187.4,462.2 184.0,461.9 180.7,461.5 177.3,460.8 173.9,459.9 170.5,458.9 167.1,457.9 163.7,456.9 160.2,456.1 156.8,455.5 153.4,455.0 150.0,454.8 146.5,454.6 143.1,454.5 139.7,454.6 136.2,454.7 132.8,454.9 129.4,455.3 126.0,455.9 122.6,456.7 119.2,457.9 115.8,459.4 112.4,461.6 109.0,464.4 105.6,468.3 102.2,472.6" fill="#e30d12"/>
<polygon points="105.0,478.6 108.4,474.3 111.8,470.3 115.2,467.5 118.6,465.4 122.1,463.8 125.5,462.7 128.9,461.8 132.3,461.2 135.7,460.9 139.1,460.7 142.6,460.5 146.0,460.5 149.5,460.6 152.9,460.7 156.4,461.0 159.8,461.4 163.3,462.0 166.7,462.9 170.1,463.8 173.6,464.9 177.0,465.9 180.4,466.8 183.8,467.5 187.2,467.9 190.5,468.1 193.9,468.2 197.2,468.2 200.5,468.1 203.8,467.9 207.1,467.6 210.4,467.2 213.7,466.6 217.0,466.0 220.4,465.1 223.9,463.9 227.3,462.4 230.8,460.8 234.3,459.1 237.8,457.4 241.3,455.9 244.7,461.7 241.2,463.3 237.7,465.0 234.2,466.7 230.7,468.3 227.2,469.8 223.8,471.0 220.4,471.9 217.0,472.6 213.6,473.1 210.3,473.5 207.0,473.8 203.7,474.1 200.4,474.2 197.1,474.1 193.7,474.0 190.3,473.8 187.0,473.4 183.5,472.7 180.1,471.8 176.7,470.8 173.2,469.8 169.7,468.8 166.3,468.0 162.8,467.4 159.4,467.0 155.9,466.7 152.5,466.5 149.0,466.5 145.5,466.5 142.1,466.6 138.6,466.8 135.2,467.2 131.7,467.8 128.3,468.6 124.9,469.8 121.4,471.3 118.0,473.5 114.6,476.3 111.1,480.2 107.7,484.5" fill="#e30d12"/>
<polygon points="110.5,490.5 113.9,486.2 117.3,482.2 120.8,479.4 124.3,477.3 127.7,475.7 131.2,474.6 134.6,473.7 138.0,473.2 141.5,472.8 145.0,472.6 148.4,472.5 151.9,472.4 155.4,472.5 158.9,472.6 162.4,472.9 165.9,473.3 169.3,473.9 172.8,474.8 176.3,475.7 179.7,476.8 183.2,477.8 186.7,478.7 190.1,479.4 193.5,479.8 196.9,480.0 200.2,480.1 203.6,480.1 206.9,480.0 210.2,479.8 213.6,479.5 216.9,479.0 220.3,478.5 223.7,477.8 227.1,476.9 230.6,475.7 234.1,474.2 237.6,472.6 241.1,470.9 244.6,469.2 248.1,467.6 251.6,473.5 248.0,475.1 244.5,476.7 240.9,478.5 237.4,480.1 233.9,481.6 230.4,482.8 227.0,483.7 223.6,484.4 220.2,484.9 216.8,485.4 213.5,485.7 210.1,485.9 206.8,486.0 203.4,486.0 200.1,485.9 196.6,485.7 193.2,485.3 189.8,484.6 186.3,483.7 182.8,482.7 179.3,481.7 175.8,480.7 172.4,479.9 168.9,479.3 165.4,478.9 161.9,478.6 158.4,478.4 154.9,478.4 151.4,478.4 147.9,478.5 144.4,478.7 140.9,479.1 137.5,479.7 134.0,480.6 130.5,481.7 127.1,483.2 123.6,485.4 120.1,488.2 116.7,492.1 113.2,496.4" fill="#e30d12"/>
<polygon points="116.0,502.4 119.4,498.1 122.9,494.1 126.4,491.3 129.9,489.2 133.4,487.6 136.9,486.5 140.3,485.7 143.8,485.1 147.3,484.7 150.8,484.5 154.3,484.4 157.8,484.3 161.3,484.4 164.9,484.6 168.4,484.8 171.9,485.2 175.4,485.9 178.9,486.7 182.4,487.7 185.9,488.7 189.4,489.7 192.9,490.6 196.4,491.2 199.8,491.7 203.2,491.9 206.6,492.0 210.0,492.0 213.3,491.8 216.7,491.6 220.1,491.3 223.4,490.9 226.8,490.3 230.3,489.6 233.7,488.7 237.2,487.5 240.8,486.0 244.3,484.4 247.9,482.6 251.4,480.9 255.0,479.4 258.4,485.2 254.9,486.8 251.3,488.5 247.7,490.2 244.1,491.9 240.6,493.4 237.1,494.6 233.6,495.5 230.1,496.2 226.7,496.8 223.3,497.2 219.9,497.6 216.6,497.8 213.2,497.9 209.8,497.9 206.4,497.8 202.9,497.6 199.5,497.2 196.0,496.5 192.5,495.6 189.0,494.6 185.5,493.6 181.9,492.6 178.4,491.8 174.9,491.2 171.4,490.8 167.8,490.5 164.3,490.4 160.8,490.3 157.2,490.3 153.7,490.5 150.2,490.7 146.7,491.0 143.2,491.6 139.7,492.5 136.2,493.6 132.7,495.1 129.2,497.3 125.7,500.1 122.2,504.0 118.7,508.3" fill="#e30d12"/>
<polygon points="121.9,515.1 125.3,510.8 128.8,506.8 132.3,504.0 135.9,501.8 139.4,500.3 142.9,499.1 146.4,498.3 149.9,497.6 153.4,497.2 156.9,497.0 160.5,496.9 164.0,496.8 167.5,496.9 171.1,497.0 174.6,497.2 178.1,497.6 181.7,498.2 185.2,499.0 188.7,500.0 192.3,501.0 195.8,501.9 199.3,502.8 202.8,503.5 206.3,503.8 209.7,504.0 213.1,504.1 216.5,504.1 219.9,503.9 223.3,503.7 226.7,503.3 230.1,502.9 233.5,502.3 237.0,501.6 240.4,500.6 244.0,499.4 247.5,497.9 251.1,496.2 254.7,494.4 258.3,492.7 261.8,491.1 265.3,497.0 261.7,498.6 258.1,500.4 254.5,502.1 250.9,503.8 247.4,505.4 243.8,506.7 240.3,507.6 236.9,508.3 233.4,509.0 230.0,509.4 226.6,509.8 223.2,510.1 219.9,510.2 216.4,510.3 213.0,510.2 209.6,510.1 206.1,509.7 202.6,509.1 199.1,508.3 195.5,507.3 192.0,506.3 188.5,505.4 184.9,504.6 181.4,504.1 177.9,503.7 174.3,503.5 170.8,503.3 167.2,503.3 163.7,503.4 160.1,503.6 156.6,503.8 153.1,504.2 149.6,504.9 146.1,505.8 142.5,506.9 139.0,508.5 135.5,510.7 132.0,513.6 128.5,517.6 125.0,521.9" fill="#e30d12"/>
<polygon points="128.3,529.1 131.8,524.8 135.3,520.7 138.8,517.9 142.4,515.6 145.9,514.0 149.4,512.8 152.9,511.9 156.4,511.2 160.0,510.8 163.5,510.5 167.0,510.3 170.6,510.2 174.1,510.1 177.7,510.2 181.2,510.4 184.8,510.7 188.3,511.3 191.9,512.0 195.4,512.9 198.9,513.9 202.5,514.8 206.0,515.6 209.5,516.2 213.0,516.5 216.4,516.6 219.8,516.6 223.3,516.6 226.7,516.4 230.0,516.1 233.4,515.7 236.9,515.1 240.3,514.5 243.8,513.7 247.2,512.7 250.8,511.4 254.4,509.9 257.9,508.1 261.5,506.3 265.1,504.5 268.7,502.9 272.1,508.7 268.6,510.5 265.0,512.3 261.4,514.1 257.8,515.9 254.2,517.5 250.7,518.9 247.2,519.9 243.7,520.7 240.3,521.4 236.9,522.0 233.5,522.4 230.1,522.8 226.7,523.0 223.3,523.1 219.9,523.2 216.5,523.1 213.0,522.8 209.5,522.2 206.0,521.5 202.4,520.6 198.9,519.7 195.4,518.9 191.8,518.2 188.3,517.7 184.7,517.4 181.2,517.2 177.7,517.2 174.1,517.3 170.6,517.5 167.0,517.7 163.5,518.0 160.0,518.5 156.5,519.2 153.0,520.2 149.4,521.5 145.9,523.1 142.4,525.4 138.9,528.3 135.4,532.4 131.9,536.8" fill="#e30d12"/>
<polygon points="135.2,544.1 138.7,539.6 142.2,535.5 145.7,532.6 149.3,530.2 152.8,528.5 156.3,527.2 159.8,526.2 163.3,525.5 166.8,525.0 170.4,524.6 173.9,524.3 177.5,524.1 181.0,524.0 184.6,524.0 188.1,524.1 191.7,524.4 195.2,524.8 198.7,525.5 202.3,526.3 205.8,527.2 209.4,528.0 212.9,528.7 216.4,529.2 219.9,529.5 223.3,529.5 226.7,529.5 230.1,529.3 233.5,529.0 236.9,528.7 240.3,528.2 243.7,527.6 247.2,526.9 250.6,526.0 254.1,525.0 257.7,523.6 261.2,521.9 264.8,520.1 268.4,518.2 272.0,516.4 275.6,514.6 279.0,520.5 275.5,522.4 272.0,524.4 268.4,526.5 264.9,528.4 261.4,530.2 258.0,531.8 254.5,533.0 251.2,534.0 247.8,534.9 244.4,535.7 241.1,536.3 237.8,536.9 234.5,537.3 231.1,537.7 227.8,537.9 224.4,538.0 221.0,538.0 217.5,537.6 214.1,537.1 210.6,536.4 207.1,535.7 203.7,535.1 200.2,534.6 196.7,534.4 193.2,534.3 189.8,534.4 186.3,534.6 182.8,534.9 179.3,535.2 175.8,535.7 172.4,536.3 168.9,537.0 165.4,538.0 162.0,539.2 158.6,540.6 155.1,542.6 151.6,545.1 148.2,548.2 144.7,552.5 141.3,557.2" fill="#e30d12"/>
<polygon points="99.5,466.7 100.8,465.0 102.2,463.3 103.5,461.5 104.9,459.9 106.2,458.4 107.6,457.2 108.9,456.1 110.3,455.1 111.6,454.3 113.0,453.5 114.4,452.8 115.7,452.2 117.1,451.7 118.4,451.2 119.8,450.8 121.1,450.4 122.5,450.1 123.8,449.8 125.2,449.5 126.5,449.3 127.9,449.1 129.2,449.0 130.6,448.9 132.0,448.8 133.3,448.7 134.7,448.7 136.1,448.6 137.4,448.6 138.8,448.6 140.2,448.6 141.5,448.6 142.9,448.6 144.3,448.7 145.6,448.7 147.0,448.8 148.4,448.9 149.7,449.0 151.1,449.2 152.4,449.3 153.8,449.5 174.9,491.2 173.5,491.0 172.1,490.9 170.7,490.7 169.3,490.6 167.8,490.5 166.4,490.4 165.0,490.4 163.6,490.3 162.2,490.3 160.8,490.3 159.4,490.3 157.9,490.3 156.5,490.4 155.1,490.4 153.7,490.5 152.3,490.5 150.9,490.6 149.5,490.7 148.1,490.9 146.7,491.0 145.3,491.2 143.9,491.5 142.5,491.8 141.1,492.1 139.7,492.5 138.3,492.9 136.9,493.3 135.5,493.9 134.1,494.5 132.7,495.1 131.3,495.9 129.9,496.8 128.5,497.8 127.1,498.9 125.7,500.1 124.3,501.5 122.9,503.2 121.5,504.9 120.1,506.7 118.7,508.3" fill="#1a4cb4"/>
<circle cx="105.8" cy="464.8" r="1.25" fill="#fff"/><circle cx="114.8" cy="457.3" r="1.25" fill="#fff"/><circle cx="123.9" cy="454.0" r="1.25" fill="#fff"/><circle cx="132.9" cy="452.7" r="1.25" fill="#fff"/><circle cx="142.0" cy="452.4" r="1.25" fill="#fff"/><circle cx="151.2" cy="452.8" r="1.25" fill="#fff"/><circle cx="112.3" cy="464.6" r="1.25" fill="#fff"/><circle cx="121.4" cy="459.6" r="1.25" fill="#fff"/><circle cx="130.4" cy="457.4" r="1.25" fill="#fff"/><circle cx="139.6" cy="456.7" r="1.25" fill="#fff"/><circle cx="148.7" cy="456.8" r="1.25" fill="#fff"/><circle cx="109.7" cy="473.3" r="1.25" fill="#fff"/><circle cx="118.8" cy="465.8" r="1.25" fill="#fff"/><circle cx="127.9" cy="462.5" r="1.25" fill="#fff"/><circle cx="137.1" cy="461.2" r="1.25" fill="#fff"/><circle cx="146.3" cy="460.9" r="1.25" fill="#fff"/><circle cx="155.5" cy="461.3" r="1.25" fill="#fff"/><circle cx="116.3" cy="473.1" r="1.25" fill="#fff"/><circle cx="125.4" cy="468.1" r="1.25" fill="#fff"/><circle cx="134.6" cy="465.9" r="1.25" fill="#fff"/><circle cx="143.7" cy="465.3" r="1.25" fill="#fff"/><circle cx="153.0" cy="465.3" r="1.25" fill="#fff"/><circle cx="113.7" cy="481.8" r="1.25" fill="#fff"/><circle cx="122.9" cy="474.3" r="1.25" fill="#fff"/><circle cx="132.0" cy="471.0" r="1.25" fill="#fff"/><circle cx="141.2" cy="469.7" r="1.25" fill="#fff"/><circle cx="150.5" cy="469.4" r="1.25" fill="#fff"/><circle cx="159.7" cy="469.8" r="1.25" fill="#fff"/><circle cx="120.2" cy="481.6" r="1.25" fill="#fff"/><circle cx="129.5" cy="476.6" r="1.25" fill="#fff"/><circle cx="138.7" cy="474.4" r="1.25" fill="#fff"/><circle cx="147.9" cy="473.8" r="1.25" fill="#fff"/><circle cx="157.2" cy="473.8" r="1.25" fill="#fff"/><circle cx="117.6" cy="490.3" r="1.25" fill="#fff"/><circle cx="126.9" cy="482.8" r="1.25" fill="#fff"/><circle cx="136.1" cy="479.5" r="1.25" fill="#fff"/><circle cx="145.4" cy="478.2" r="1.25" fill="#fff"/><circle cx="154.7" cy="478.0" r="1.25" fill="#fff"/><circle cx="164.0" cy="478.3" r="1.25" fill="#fff"/><circle cx="124.2" cy="490.1" r="1.25" fill="#fff"/><circle cx="133.5" cy="485.1" r="1.25" fill="#fff"/><circle cx="142.8" cy="482.9" r="1.25" fill="#fff"/><circle cx="152.1" cy="482.3" r="1.25" fill="#fff"/><circle cx="161.5" cy="482.3" r="1.25" fill="#fff"/><circle cx="121.6" cy="498.8" r="1.25" fill="#fff"/><circle cx="130.9" cy="491.3" r="1.25" fill="#fff"/><circle cx="140.2" cy="488.0" r="1.25" fill="#fff"/><circle cx="149.5" cy="486.8" r="1.25" fill="#fff"/><circle cx="158.9" cy="486.5" r="1.25" fill="#fff"/><circle cx="168.3" cy="486.9" r="1.25" fill="#fff"/>
<g clip-path="url(#flagclip)"><rect x="90" y="430" width="200" height="140" fill="url(#wave)"/><rect x="90" y="430" width="200" height="140" fill="url(#crn)"/><rect x="90" y="430" width="200" height="140" fill="url(#crn2)"/></g>
<text class="lg" x="0" y="0" font-size="35" letter-spacing="-4.0" stroke-linejoin="round" stroke-linecap="round" fill="#000" stroke="#000" stroke-width="5.2" opacity="0.45" filter="url(#sh2)" transform="translate(-1.5,3.5) translate(108.4,512.2) scale(1.45,1)">us</text>
<text class="lg" x="0" y="0" font-size="35" letter-spacing="-4.0" stroke-linejoin="round" stroke-linecap="round" fill="#706b08" stroke="#706b08" stroke-width="5.2" transform="translate(108.4,512.2) scale(1.45,1)">us</text>
<text class="lg" x="0" y="0" font-size="35" letter-spacing="-4.0" stroke-linejoin="round" stroke-linecap="round" fill="url(#yel)" stroke="url(#yel)" stroke-width="2.4" transform="translate(108.4,512.2) scale(1.45,1)">us</text>
<text class="lg" x="0" y="0" font-size="35" letter-spacing="-5.9" stroke-linejoin="round" stroke-linecap="round" fill="#000" stroke="#000" stroke-width="5.2" opacity="0.45" filter="url(#sh2)" transform="translate(-1.5,3.5) translate(178.6,512.2) scale(1.3,1)">index</text>
<text class="lg" x="0" y="0" font-size="35" letter-spacing="-5.9" stroke-linejoin="round" stroke-linecap="round" fill="#706b08" stroke="#706b08" stroke-width="5.2" transform="translate(178.6,512.2) scale(1.3,1)">index</text>
<text class="lg" x="0" y="0" font-size="35" letter-spacing="-5.9" stroke-linejoin="round" stroke-linecap="round" fill="url(#yel)" stroke="url(#yel)" stroke-width="2.4" transform="translate(178.6,512.2) scale(1.3,1)">index</text>
<text class="lg" x="0" y="0" font-size="41.5" letter-spacing="-5.85" stroke-linejoin="round" stroke-linecap="round" fill="#000" stroke="#000" stroke-width="5.2" opacity="0.45" filter="url(#sh2)" transform="translate(-1.5,3.5) translate(161.5,540.8) scale(1.3,1)">daytrader</text>
<text class="lg" x="0" y="0" font-size="41.5" letter-spacing="-5.85" stroke-linejoin="round" stroke-linecap="round" fill="#1f6b98" stroke="#1f6b98" stroke-width="5.2" transform="translate(161.5,540.8) scale(1.3,1)">daytrader</text>
<text class="lg" x="0" y="0" font-size="41.5" letter-spacing="-5.85" stroke-linejoin="round" stroke-linecap="round" fill="url(#blu)" stroke="url(#blu)" stroke-width="2.4" transform="translate(161.5,540.8) scale(1.3,1)">daytrader</text>
</svg>
</body></html>
